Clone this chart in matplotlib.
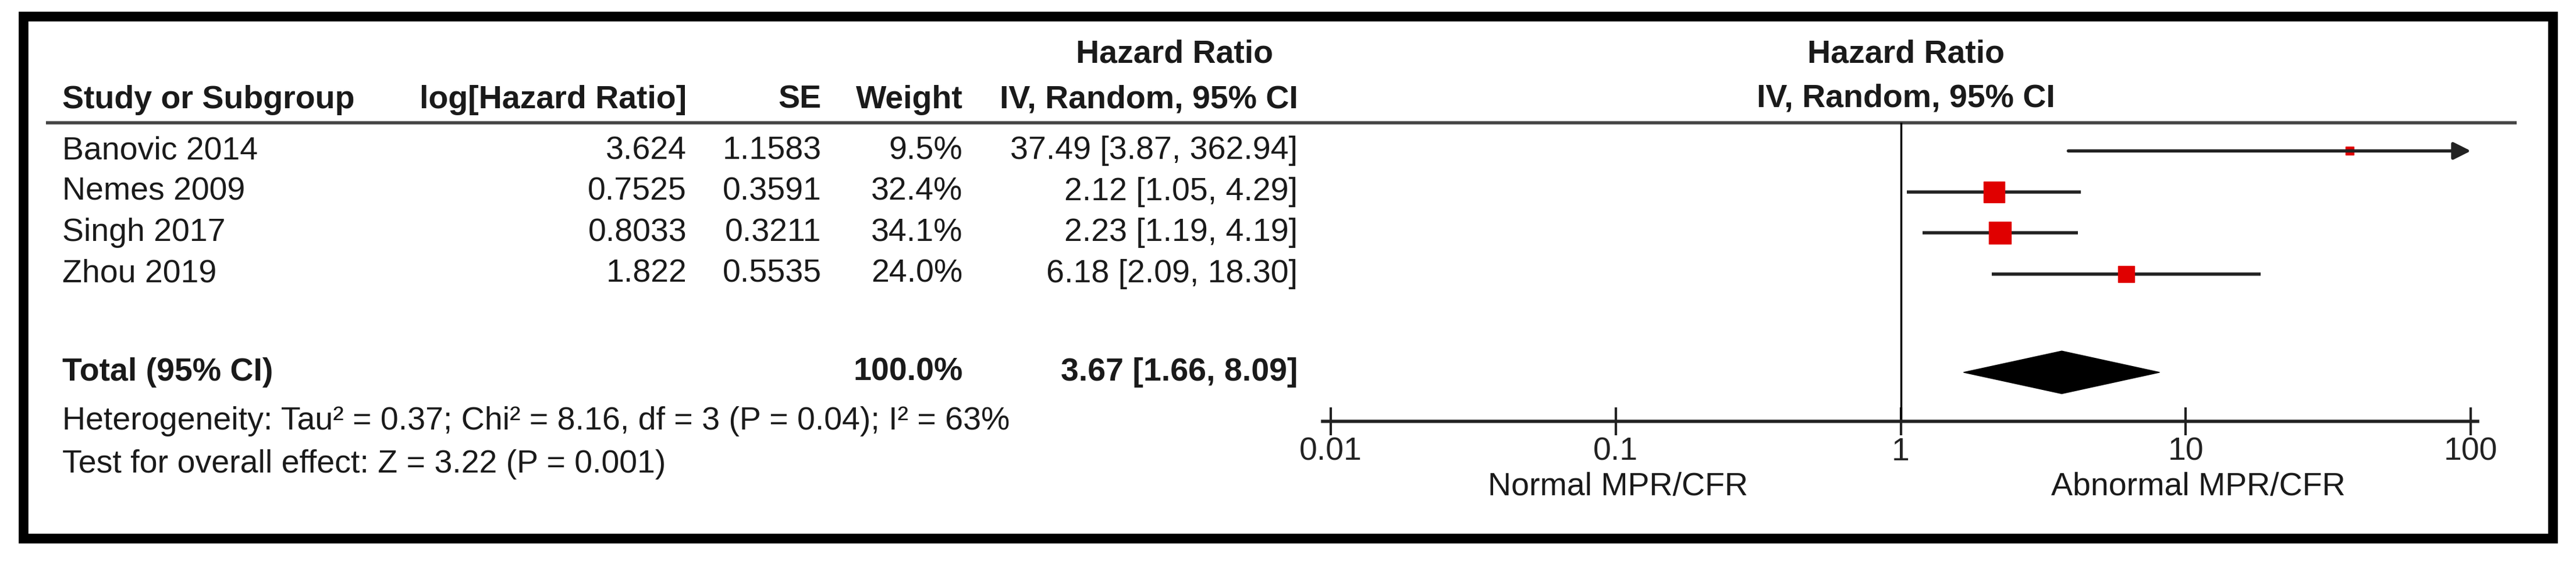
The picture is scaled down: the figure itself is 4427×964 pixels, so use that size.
import matplotlib
matplotlib.use('Agg')
import numpy as np
import matplotlib.pyplot as plt
from matplotlib.patches import Rectangle, Polygon

studies = ['Banovic 2014', 'Nemes 2009', 'Singh 2017', 'Zhou 2019']
log_hr = ['3.624', '0.7525', '0.8033', '1.822']
se = ['1.1583', '0.3591', '0.3211', '0.5535']
weight = [9.5, 32.4, 34.1, 24.0]
hr = [37.49, 2.12, 2.23, 6.18]
lo = [3.87, 1.05, 1.19, 2.09]
hi = [362.94, 4.29, 4.19, 18.30]
total_hr, total_lo, total_hi = 3.67, 1.66, 8.09
xticks = [0.01, 0.1, 1, 10, 100]
xticklabels = ['0.01', '0.1', '1', '10', '100']

W, H = 1568., 342.
plt.rcParams['font.family'] = ['Liberation Sans', 'DejaVu Sans']
fs = 40
tc = '#1a1a1a'

fig = plt.figure(figsize=(44.27, 9.64), dpi=100)
ax = fig.add_axes([0, 0, 1, 1])
ax.set_xlim(0, W)
ax.set_ylim(H, 0)
ax.axis('off')

# frame
ax.add_patch(Rectangle((14, 10), 1540, 318, fill=False, lw=12, ec='black'))

# headers
ax.text(715, 33, 'Hazard Ratio', ha='center', va='center', fontsize=fs, weight='bold', color=tc)
ax.text(38, 61, 'Study or Subgroup', ha='left', va='center', fontsize=fs, weight='bold', color=tc)
ax.text(418, 61, 'log[Hazard Ratio]', ha='right', va='center', fontsize=fs, weight='bold', color=tc)
ax.text(500, 61, 'SE', ha='right', va='center', fontsize=fs, weight='bold', color=tc)
ax.text(586, 61, 'Weight', ha='right', va='center', fontsize=fs, weight='bold', color=tc)
ax.text(790, 61, 'IV, Random, 95% CI', ha='right', va='center', fontsize=fs, weight='bold', color=tc)
ax.text(1160, 33, 'Hazard Ratio', ha='center', va='center', fontsize=fs, weight='bold', color=tc)
ax.text(1160, 60, 'IV, Random, 95% CI', ha='center', va='center', fontsize=fs, weight='bold', color=tc)
ax.plot([28, 1532], [75, 75], color='#444444', lw=4, solid_capstyle='butt')

row_y = [92, 117, 142, 167]
for i, name in enumerate(studies):
    y = row_y[i]
    ax.text(38, y, name, ha='left', va='center', fontsize=fs, color=tc)
    ax.text(418, y, log_hr[i], ha='right', va='center', fontsize=fs, color=tc)
    ax.text(500, y, se[i], ha='right', va='center', fontsize=fs, color=tc)
    ax.text(586, y, '%.1f%%' % weight[i], ha='right', va='center', fontsize=fs, color=tc)
    ax.text(790, y, '%.2f [%.2f, %.2f]' % (hr[i], lo[i], hi[i]), ha='right', va='center', fontsize=fs, color=tc)

ty = 227
ax.text(38, ty, 'Total (95% CI)', ha='left', va='center', fontsize=fs, weight='bold', color=tc)
ax.text(586, ty, '100.0%', ha='right', va='center', fontsize=fs, weight='bold', color=tc)
ax.text(790, ty, '%.2f [%.2f, %.2f]' % (total_hr, total_lo, total_hi), ha='right', va='center', fontsize=fs, weight='bold', color=tc)
ax.text(38, 257, 'Heterogeneity: Tau\u00b2 = 0.37; Chi\u00b2 = 8.16, df = 3 (P = 0.04); I\u00b2 = 63%', ha='left', va='center', fontsize=fs, color=tc)
ax.text(38, 283, 'Test for overall effect: Z = 3.22 (P = 0.001)', ha='left', va='center', fontsize=fs, color=tc)
ax.text(985, 297, 'Normal MPR/CFR', ha='center', va='center', fontsize=fs, color=tc)
ax.text(1338, 297, 'Abnormal MPR/CFR', ha='center', va='center', fontsize=fs, color=tc)

# forest axes
x0, x1 = 805, 1508
fx = fig.add_axes([x0 / W, 1 - 257 / H, (x1 - x0) / W, 182 / H])
fx.set_xscale('log')
fx.set_xlim(10 ** -2.029, 10 ** 2.023)
fx.set_ylim(257, 75)
fx.patch.set_alpha(0)
for s in ['top', 'left', 'right']:
    fx.spines[s].set_visible(False)
fx.spines['bottom'].set_linewidth(4)
fx.spines['bottom'].set_color('#222222')
fx.set_yticks([])
fx.set_xticks(xticks)
fx.set_xticklabels(xticklabels)
fx.minorticks_off()
fx.tick_params(axis='x', direction='inout', length=34, width=3, labelsize=fs, colors='#222222', pad=2)
fx.axvline(1, color='black', lw=2.5)

for i in range(len(studies)):
    y = row_y[i]
    if hi[i] > 100:
        fx.annotate('', xy=(100, y), xytext=(lo[i], y),
                    arrowprops=dict(arrowstyle='-|>', color='#222222', lw=4, mutation_scale=45, shrinkA=0, shrinkB=0))
    else:
        fx.plot([lo[i], hi[i]], [y, y], color='#222222', lw=4, solid_capstyle='butt')
    fx.plot(hr[i], y, marker='s', ms=4 + 0.68 * weight[i], color='#e00000', mec='#e00000')

dh = 13
fx.add_patch(Polygon([(total_lo, ty), (total_hr, ty - dh), (total_hi, ty), (total_hr, ty + dh)],
                     closed=True, color='black'))

fig.savefig('out.png', dpi=100)
